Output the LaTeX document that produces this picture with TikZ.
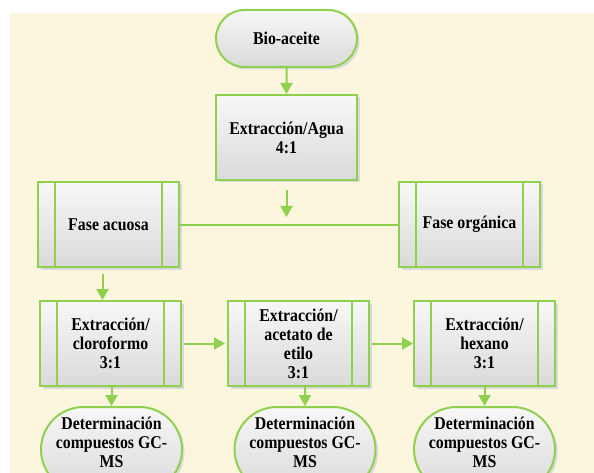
\documentclass[tikz,border=0pt]{standalone}
\usepackage{fontspec}
\setmainfont{Liberation Serif}
\newfontfamily\diagfont{Liberation Serif}[FakeStretch=0.88]
\usetikzlibrary{shapes.misc,shadows,arrows.meta}
\definecolor{gline}{HTML}{8FD14F}
\definecolor{bgcream}{HTML}{FBF6DD}
\definecolor{shtop}{HTML}{F7F7F7}
\definecolor{shbot}{HTML}{DADADA}
\tikzset{
  lbl/.style={font=\diagfont\bfseries\fontsize{18}{19}\selectfont, align=center, text=black, inner sep=0pt},
  base/.style={lbl, draw=gline, line width=2pt, top color=shtop, bottom color=shbot,
    drop shadow={shadow xshift=2.5pt, shadow yshift=-2.5pt, fill=black!15, opacity=1}},
  term/.style={base, rounded rectangle, minimum width=141pt, minimum height=57pt},
  proc/.style={base, rectangle, minimum width=141pt, minimum height=85pt},
  pproc/.style={proc, path picture={
      \draw[gline, line width=2pt]
        ([xshift=17pt]path picture bounding box.north west) -- ([xshift=17pt]path picture bounding box.south west)
        ([xshift=-17pt]path picture bounding box.north east) -- ([xshift=-17pt]path picture bounding box.south east);}},
  arr/.style={gline, line width=2pt, -{Triangle[length=11pt,width=12pt]}},
  link/.style={gline, line width=2pt},
}
\begin{document}
\begin{tikzpicture}[x=1pt, y=-1pt]
\clip (0,0) rectangle (594,473);
\fill[bgcream] (10,13) rectangle (594,473);

\node[term] (bio) at (286.5,38.5) {Bio-aceite};
\node[proc] (agua) at (286.5,137.5) {Extracción/Agua\\4:1};
\node[pproc] (fa) at (108.5,224.5) {Fase acuosa};
\node[pproc] (fo) at (469.5,224.5) {Fase orgánica};
\node[pproc] (b1) at (110.5,343.5) {Extracción/\\cloroformo\\3:1};
\node[pproc] (b2) at (298.5,343.5) {Extracción/\\acetato de\\etilo\\3:1};
\node[pproc] (b3) at (484.5,343.5) {Extracción/\\hexano\\3:1};

\node[term, minimum height=85pt] (o1) at (111.5,449.5) {};
\node[term, minimum height=85pt] (o2) at (305,449.5) {};
\node[term, minimum height=85pt] (o3) at (484.5,449.5) {};
\node[lbl] (t1) at ([yshift=7.5pt]o1.center) {Determinación\\compuestos GC-\\MS};
\node[lbl] (t2) at ([yshift=7.5pt]o2.center) {Determinación\\compuestos GC-\\MS};
\node[lbl] (t3) at ([yshift=7.5pt]o3.center) {Determinación\\compuestos GC-\\MS};

\coordinate (fs) at (286.5,190);
\coordinate (fe) at (286.5,217);

\draw[arr] (bio) -- (agua);
\draw[arr] (fs) -- (fe);
\draw[link] (fa.east) -- (fo.west);
\draw[arr, shorten <=6pt] ([xshift=-6pt]fa.south) -- ([xshift=-6pt]fa.south |- b1.north);
\draw[arr, shorten <=2pt, shorten >=2pt] (b1.east) -- (b2.west);
\draw[arr, shorten <=2pt] (b2.east) -- (b3.west);
\draw[arr] (b1.south -| o1.north) -- (o1.north);
\draw[arr] (b2.south -| o2.north) -- (o2.north);
\draw[arr] (b3.south -| o3.north) -- (o3.north);
\end{tikzpicture}
\end{document}
